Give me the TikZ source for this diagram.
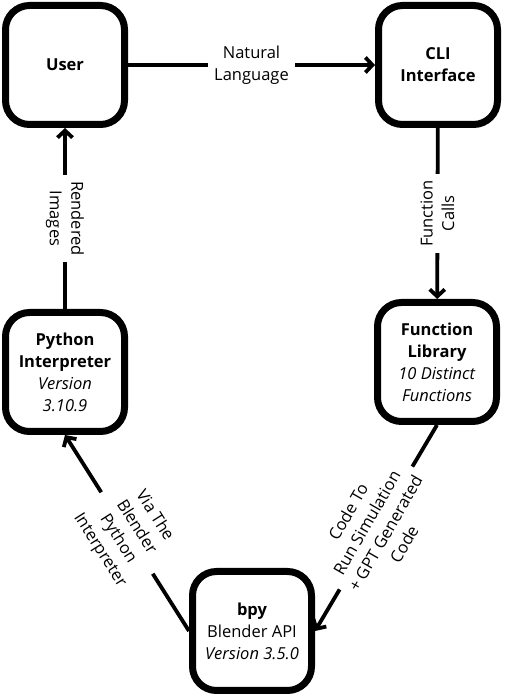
\documentclass[tikz,border=0pt]{standalone}
\usepackage{fontspec}
\setmainfont{Open Sans}
\usetikzlibrary{arrows.meta}

\begin{document}
\begin{tikzpicture}[
  x=1pt, y=1pt,
  block/.style={draw=black, line width=7pt, rounded corners=24pt, fill=white,
                minimum width=119pt, minimum height=119pt, align=center,
                inner sep=2pt, font=\fontsize{16.5}{22}\selectfont},
  flow/.style={line width=3.8pt, -{Straight Barb[length=7pt, width=15pt]}},
  tag/.style={fill=white, align=center, inner xsep=6pt, inner ysep=1pt,
              font=\fontsize{16.5}{21.5}\selectfont},
]
\useasboundingbox (0,0) rectangle (504,696);
\node[block] (user) at (65,631) {\textbf{User}};
\node[block] (cli) at (438,631) {\textbf{CLI}\\\textbf{Interface}};
\node[block] (lib) at (437,334) {\textbf{Function}\\\textbf{Library}\\\textit{10 Distinct}\\\textit{Functions}};
\node[block] (py) at (65,324) {\textbf{Python}\\\textbf{Interpreter}\\\textit{Version}\\\textit{3.10.9}};
\node[block] (bpy) at (252,65) {\textbf{bpy}\\Blender API\\\textit{Version 3.5.0}};

\draw[flow] (user) -- node[tag] {Natural\\Language} (cli);
\draw[flow] (cli) -- node[tag, rotate=90] {Function\\Calls} (lib);
\draw[flow] (py) -- node[tag, rotate=-90] {Rendered\\Images} (user);
\draw[flow] (bpy.west) -- node[tag, rotate=-57.6] {Via The\\Blender\\Python\\Interpreter} (py.south);
\draw[flow] (lib.south) -- node[tag, rotate=60] {Code To\\Run Simulation\\+ GPT Generated\\Code} (bpy.east);
\end{tikzpicture}
\end{document}
